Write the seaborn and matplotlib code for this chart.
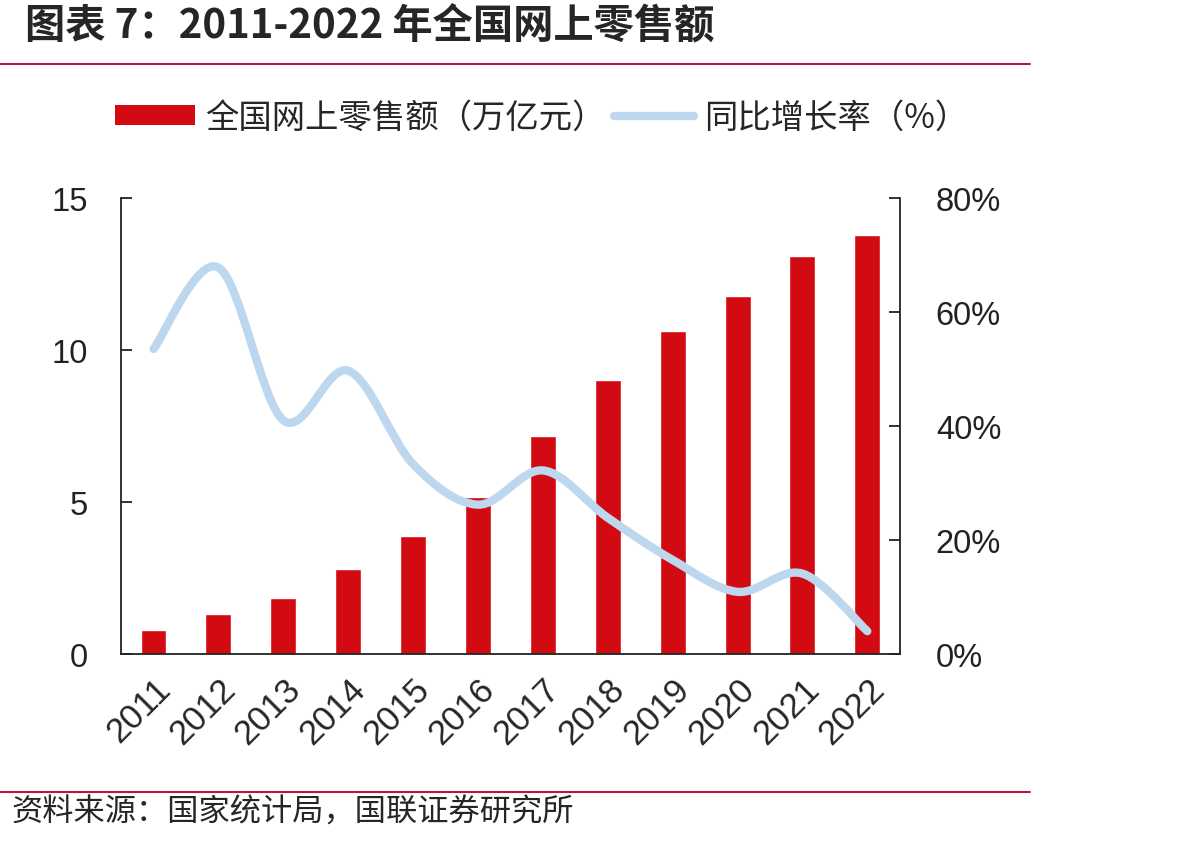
import numpy as np
import pandas as pd
import matplotlib
matplotlib.use("Agg")
import matplotlib.pyplot as plt
from matplotlib.path import Path
from matplotlib.patches import PathPatch, Patch
from matplotlib.lines import Line2D
from matplotlib.ticker import PercentFormatter
import seaborn as sns

# 数据
years = ['2011', '2012', '2013', '2014', '2015', '2016',
         '2017', '2018', '2019', '2020', '2021', '2022']
sales = [0.78, 1.31, 1.85, 2.79, 3.88, 5.16, 7.18, 9.01, 10.63, 11.76, 13.09, 13.79]
growth = [53.5, 67.8, 41.0, 49.7, 33.3, 26.2, 32.2, 23.9, 16.5, 10.9, 14.1, 4.0]

df = pd.DataFrame({'year': years, 'sales': sales, 'growth': growth})

sns.set_style('white')
plt.rcParams['font.family'] = ['Noto Sans CJK SC', 'DejaVu Sans']

RED = '#D20A11'
BLUE = '#BDD7EE'
LINE_RED = '#C0143C'
TICK_FONT = ['Liberation Sans', 'DejaVu Sans']

fig = plt.figure(figsize=(11.87, 8.45), dpi=100)
ax1 = fig.add_axes([0.102, 0.2249, 0.656, 0.5396])

# 左轴：柱状图
sns.barplot(data=df, x='year', y='sales', color=RED, width=0.4,
            saturation=1, ax=ax1)
ax1.set_ylim(0, 15)
ax1.set_yticks([0, 5, 10, 15])
ax1.set_xlim(-0.5, len(years) - 0.5)
ax1.set_xlabel('')
ax1.set_ylabel('')

# 右轴：平滑折线（贝塞尔曲线穿过各数据点）
ax2 = ax1.twinx()
ax2.set_ylim(0, 80)
ax2.set_yticks([0, 20, 40, 60, 80])
ax2.yaxis.set_major_formatter(PercentFormatter(decimals=0))

pts = np.column_stack([np.arange(len(growth)), np.array(growth)])
ext = np.vstack([pts[0], pts, pts[-1]])
verts = [tuple(pts[0])]
codes = [Path.MOVETO]
for i in range(len(pts) - 1):
    p0, p1, p2, p3 = ext[i], ext[i + 1], ext[i + 2], ext[i + 3]
    c1 = p1 + (p2 - p0) / 6
    c2 = p2 - (p3 - p1) / 6
    verts += [tuple(c1), tuple(c2), tuple(p2)]
    codes += [Path.CURVE4] * 3
ax2.add_patch(PathPatch(Path(verts, codes), facecolor='none', edgecolor=BLUE,
                        lw=6, capstyle='round', joinstyle='round', zorder=3))

for ax in (ax1, ax2):
    for s in ax.spines.values():
        s.set_visible(False)
    ax.tick_params(axis='y', direction='in', length=8, width=1.3,
                   labelsize=23.5, colors='#222222')
ax1.spines['left'].set_visible(True)
ax1.spines['bottom'].set_visible(True)
ax2.spines['right'].set_visible(True)
for s in (ax1.spines['left'], ax1.spines['bottom'], ax2.spines['right']):
    s.set_linewidth(1.3)
    s.set_color('#222222')
ax1.tick_params(axis='y', pad=24)
ax2.tick_params(axis='y', pad=26)
ax1.tick_params(axis='x', length=0, labelsize=25, pad=13)
plt.setp(ax1.get_xticklabels(), rotation=45, ha='right', rotation_mode='anchor')
for lab in ax1.get_xticklabels() + ax1.get_yticklabels() + ax2.get_yticklabels():
    lab.set_family(TICK_FONT)
ax1.set_zorder(ax2.get_zorder() - 1)
ax2.patch.set_visible(False)

# 图例
handles = [Patch(facecolor=RED, edgecolor='none'),
           Line2D([0], [0], color=BLUE, lw=6, solid_capstyle='round')]
labels = ['全国网上零售额（万亿元）', '同比增长率（%）']
fig.legend(handles, labels, loc='center left', bbox_to_anchor=(0.097, 0.860),
           ncol=2, frameon=False, fontsize=24, handlelength=2.4,
           handleheight=0.55, handletextpad=0.3, columnspacing=0.25,
           borderpad=0, borderaxespad=0)

# 标题、分隔线、来源
fig.text(0.021, 0.968, '图表 7：2011-2022 年全国网上零售额', fontsize=29,
         fontweight='bold', va='center', ha='left')
fig.add_artist(Line2D([0, 0.868], [1 - 65 / 845] * 2, color=LINE_RED, lw=1.5))
fig.add_artist(Line2D([0, 0.868], [1 - 793 / 845] * 2, color=LINE_RED, lw=1.5))
fig.text(0.010, 1 - 813 / 845, '资料来源：国家统计局，国联证券研究所', fontsize=22.5,
         va='center', ha='left', fontweight='light')

fig.savefig('out.png', dpi=100, facecolor='white')
